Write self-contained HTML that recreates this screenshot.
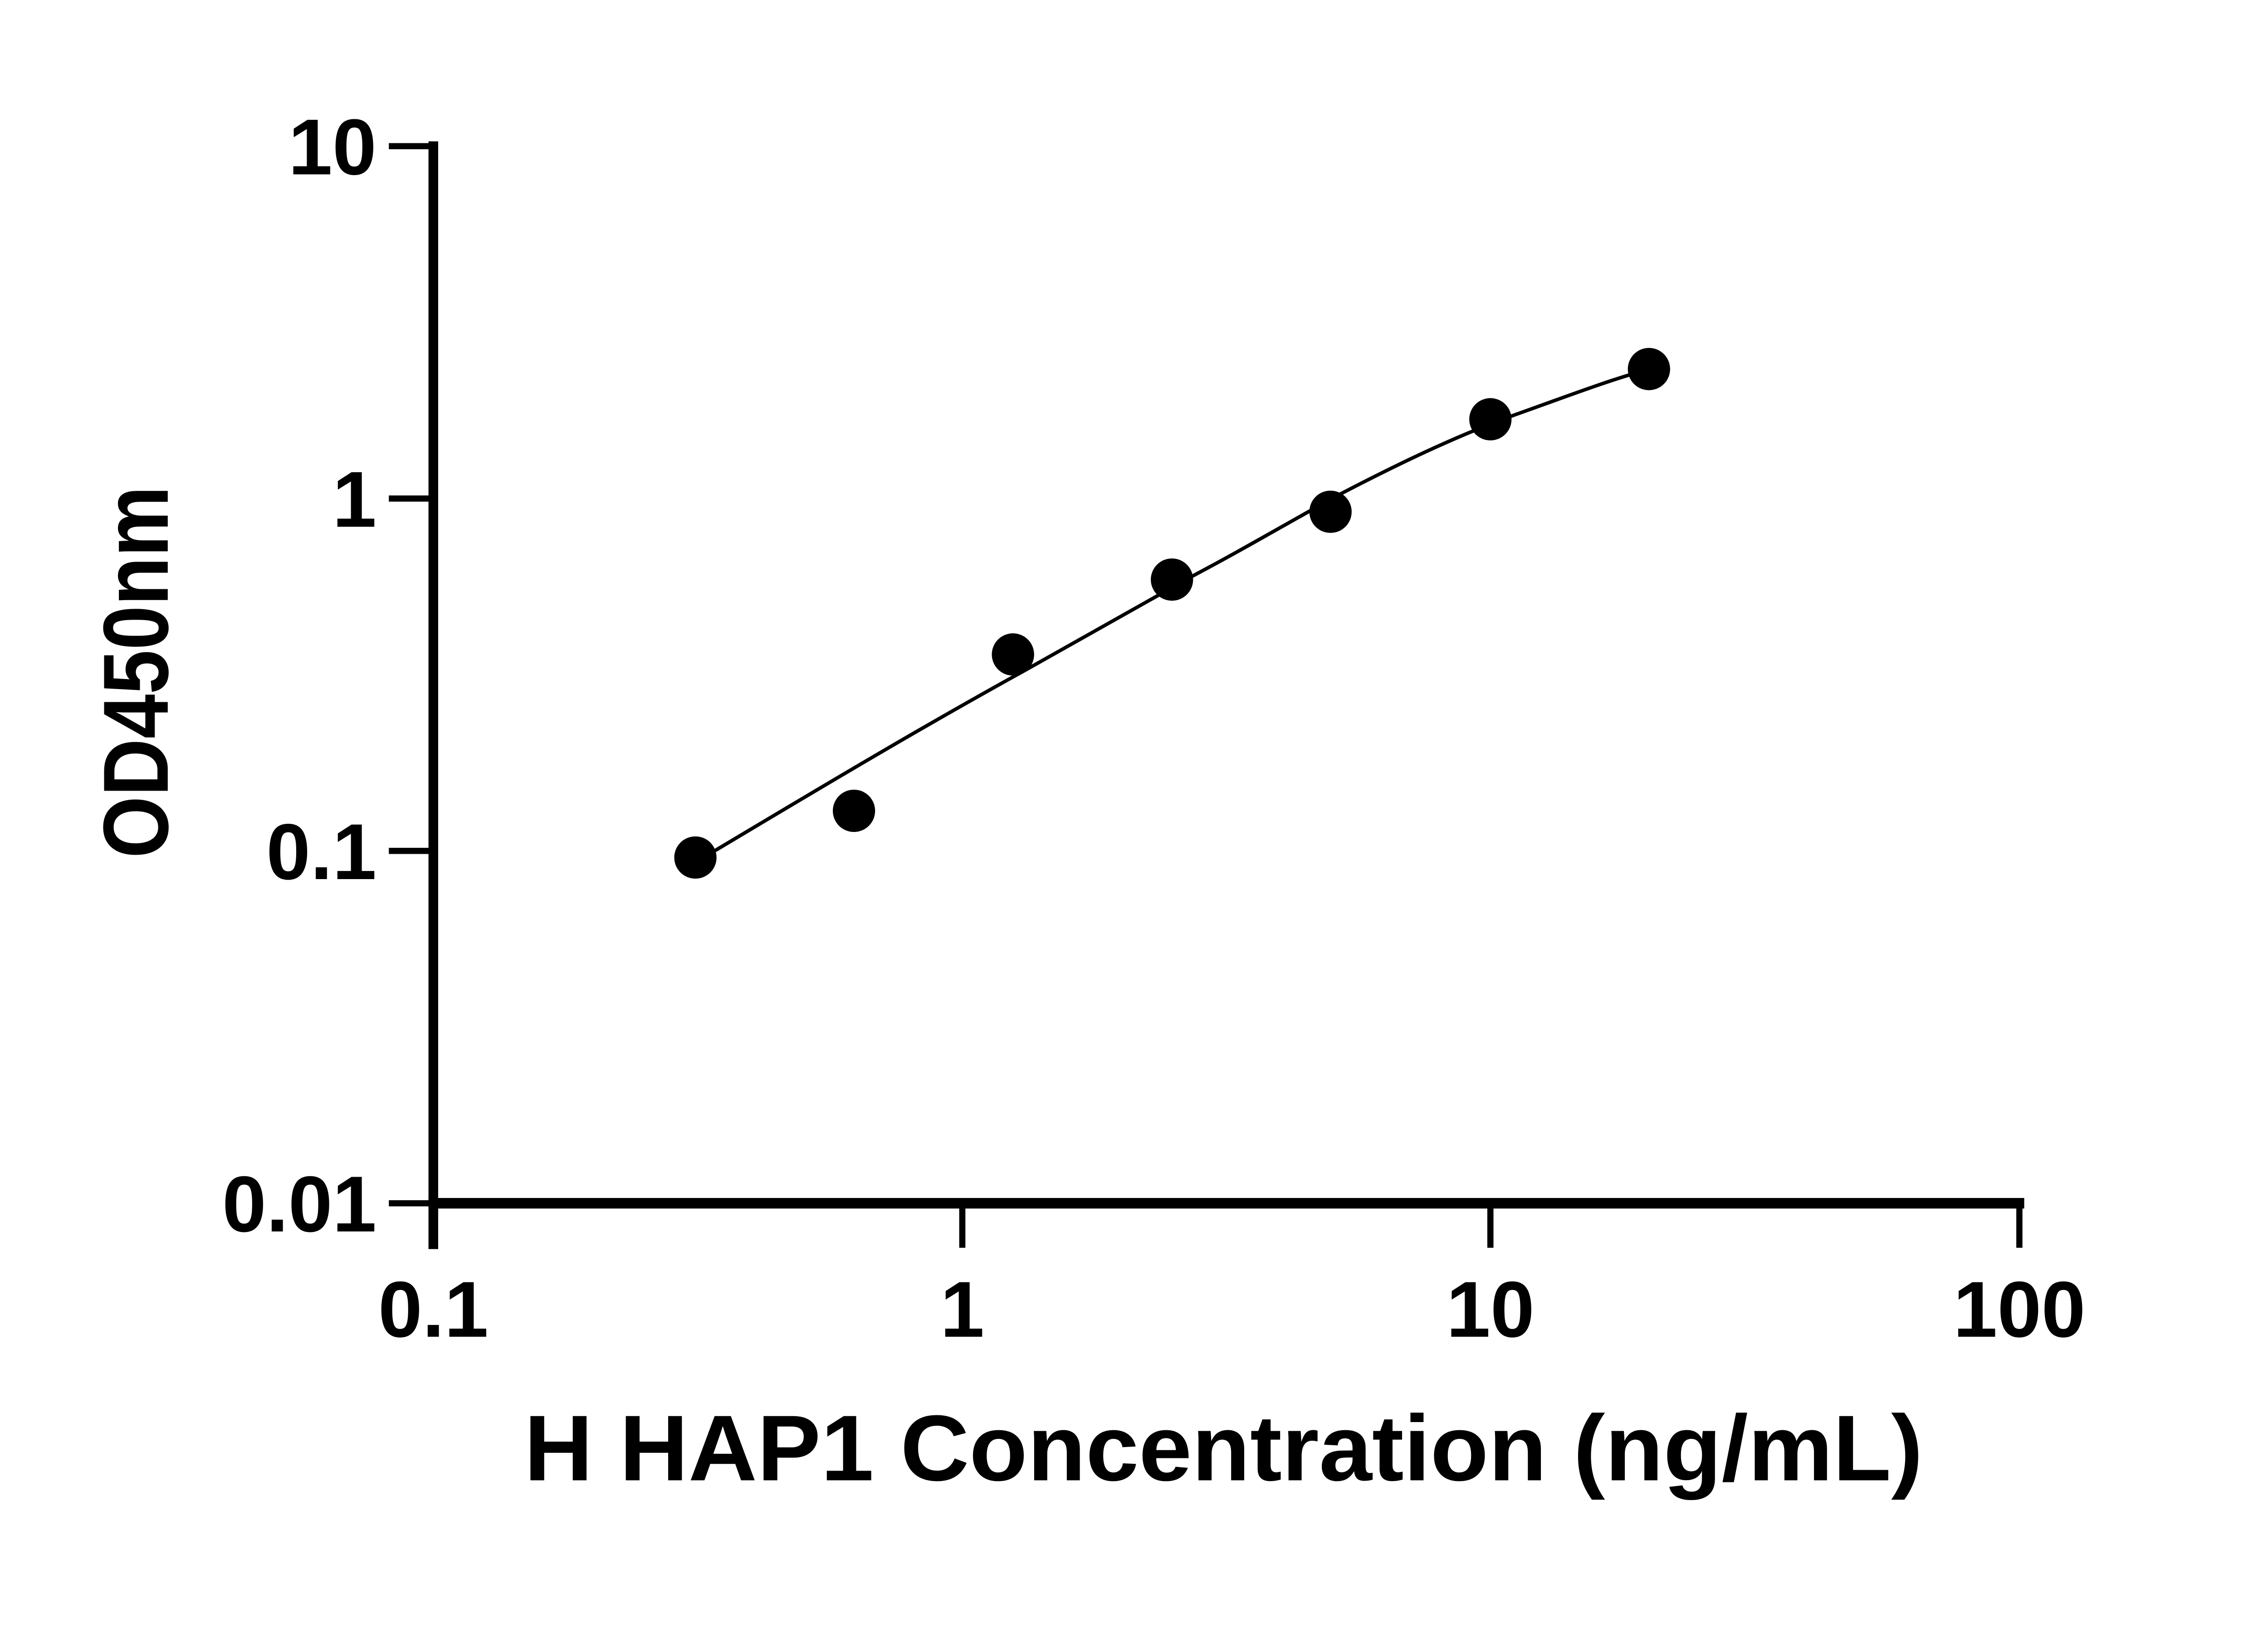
<!DOCTYPE html>
<html><head><style>html,body{margin:0;padding:0;background:#fff;}svg{display:block}</style></head>
<body>
<svg width="5142" height="3600" viewBox="0 0 5142 3600" xmlns="http://www.w3.org/2000/svg">
<rect width="5142" height="3600" fill="#fff"/>
<g transform="translate(-5,-4) scale(0.971)">
<g stroke="#000" fill="none">
<line x1="989" y1="325" x2="989" y2="2840" stroke-width="22"/>
<line x1="978" y1="2736" x2="4601" y2="2736" stroke-width="24"/>
<g stroke-width="14">
<line x1="888" y1="336" x2="989" y2="336"/>
<line x1="888" y1="1136" x2="989" y2="1136"/>
<line x1="888" y1="1936" x2="989" y2="1936"/>
<line x1="888" y1="2736" x2="989" y2="2736"/>
<line x1="2190" y1="2736" x2="2190" y2="2837"/>
<line x1="3389" y1="2736" x2="3389" y2="2837"/>
<line x1="4590" y1="2736" x2="4590" y2="2837"/>
</g>
<path d="M1584,1962 C1830,1815 2080,1665 2327,1529 C2460,1455 2590,1380 2709,1314 C2830,1250 2940,1185 3046,1127 C3180,1057 3310,995 3436,949 C3560,905 3650,870 3749,842" stroke-width="8"/>
</g>
<g fill="#000">
<circle cx="1584" cy="1951" r="48"/>
<circle cx="1944" cy="1845" r="48"/>
<circle cx="2305" cy="1490" r="48"/>
<circle cx="2666" cy="1320" r="48"/>
<circle cx="3026" cy="1166" r="48"/>
<circle cx="3389" cy="956" r="48"/>
<circle cx="3749" cy="842" r="48"/>
</g>
<g font-family="Liberation Sans, sans-serif" font-weight="bold" font-size="180" fill="#000">
<g text-anchor="end">
<text x="860" y="400">10</text>
<text x="860" y="1200">1</text>
<text x="860" y="2000">0.1</text>
<text x="860" y="2800">0.01</text>
</g>
<g text-anchor="middle">
<text x="989" y="3039">0.1</text>
<text x="2190" y="3039">1</text>
<text x="3389" y="3039">10</text>
<text x="4590" y="3039">100</text>
</g>
<text x="2783" y="3365" font-size="212" text-anchor="middle" textLength="3176" lengthAdjust="spacingAndGlyphs">H HAP1 Concentration (ng/mL)</text>
<text transform="translate(386,1530) rotate(-90)" font-size="210" text-anchor="middle" textLength="845" lengthAdjust="spacingAndGlyphs">OD450nm</text>
</g>
</g>
</svg>
</body></html>
